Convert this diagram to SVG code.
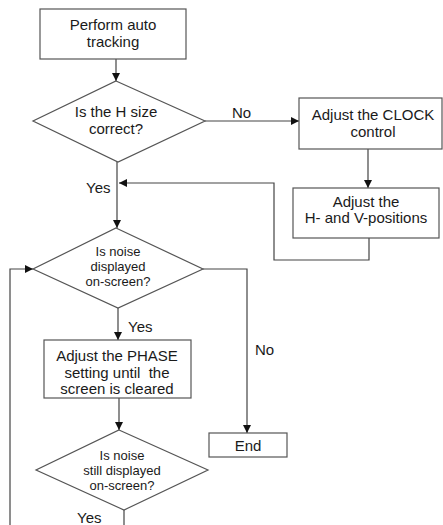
<svg xmlns="http://www.w3.org/2000/svg" width="443" height="525" viewBox="0 0 443 525">
<defs>
<marker id="ah" markerWidth="9" markerHeight="9" refX="8" refY="4" orient="auto" markerUnits="userSpaceOnUse">
<path d="M0,0 L8,4 L0,8 Z" fill="#111"/>
</marker>
<style>
.n{fill:#fff;stroke:#555;stroke-width:1.2}
.c{fill:none;stroke:#444;stroke-width:1.2}
text{font-family:"Liberation Sans",Arial,sans-serif;fill:#1a1a1a;text-anchor:middle}
.t{font-size:15px}
.s{font-size:13px}
.l{font-size:15px;text-anchor:start}
</style>
</defs>
<g id="connectors">
<path class="c" d="M116,59 V81" marker-end="url(#ah)"/>
<path class="c" d="M205,121 H299" marker-end="url(#ah)"/>
<path class="c" d="M368,149 V188" marker-end="url(#ah)"/>
<path class="c" d="M369,238 V260 H274 V183 H119" marker-end="url(#ah)"/>
<path class="c" d="M117,162 V228" marker-end="url(#ah)"/>
<path class="c" d="M118,308 V340" marker-end="url(#ah)"/>
<path class="c" d="M203,269 H247 V433" marker-end="url(#ah)"/>
<path class="c" d="M119,398 V430" marker-end="url(#ah)"/>
<path class="c" d="M124,510 V525"/>
<path class="c" d="M10,525 V269 H33" marker-end="url(#ah)"/>
</g>
<g id="labels">
<text class="l" x="232" y="118">No</text>
<text class="l" x="86" y="193">Yes</text>
<text class="l" x="128" y="332">Yes</text>
<text class="l" x="255" y="355">No</text>
<text class="l" x="77" y="523">Yes</text>
</g>
<g id="n1">
<rect class="n" x="40" y="9" width="146" height="50"/>
<text class="t" x="113" y="30">Perform auto</text>
<text class="t" x="113" y="47">tracking</text>
</g>
<g id="d1">
<polygon class="n" points="116,81 205,121 118,162 33,121"/>
<text class="t" x="116" y="117">Is the H size</text>
<text class="t" x="116" y="134">correct?</text>
</g>
<g id="n2">
<rect class="n" x="299" y="98" width="143" height="51"/>
<text class="t" x="373" y="120">Adjust the CLOCK</text>
<text class="t" x="373" y="137">control</text>
</g>
<g id="n3">
<rect class="n" x="293" y="188" width="146" height="50"/>
<text class="t" x="366" y="207">Adjust the</text>
<text class="t" x="366" y="223">H- and V-positions</text>
</g>
<g id="d2">
<polygon class="n" points="116,228 203,269 118,308 33,269"/>
<text class="s" x="118" y="256">Is noise</text>
<text class="s" x="118" y="271">displayed</text>
<text class="s" x="118" y="286">on-screen?</text>
</g>
<g id="n4">
<rect class="n" x="44" y="340" width="147" height="58"/>
<text class="t" x="117" y="361">Adjust the PHASE</text>
<text class="t" x="117" y="378">setting until&#160; the</text>
<text class="t" x="117" y="394">screen is cleared</text>
</g>
<g id="d3">
<polygon class="n" points="119,430 208,470 124,510 36,470"/>
<text class="s" x="122" y="460">Is noise</text>
<text class="s" x="122" y="475">still displayed</text>
<text class="s" x="122" y="490">on-screen?</text>
</g>
<g id="n5">
<rect class="n" x="209" y="433" width="78" height="24"/>
<text class="t" x="248" y="451">End</text>
</g>
</svg>
